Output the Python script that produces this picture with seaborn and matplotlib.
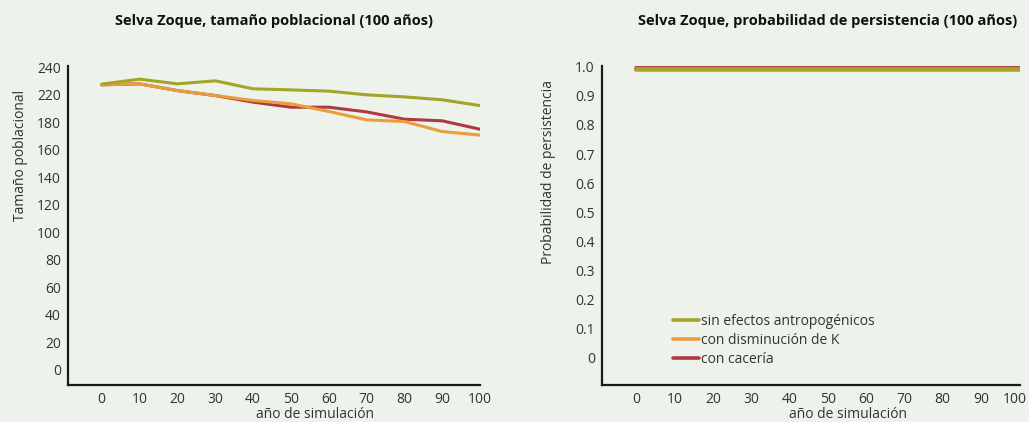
import matplotlib
matplotlib.use("Agg")
import matplotlib.pyplot as plt
import matplotlib.transforms as mtransforms
import seaborn as sns
import pandas as pd
from matplotlib.lines import Line2D

years = [0, 10, 20, 30, 40, 50, 60, 70, 80, 90, 100]
series_names = ["sin efectos antropogénicos", "con disminución de K", "con cacería"]
colors = {"sin efectos antropogénicos": "#a3a42a",
          "con disminución de K": "#eb9d3c",
          "con cacería": "#ad3a42"}

# population size (in axis units as drawn)
pop_sin = [207.8, 211.4, 208.0, 210.2, 204.4, 203.6, 202.7, 200.0, 198.5, 196.4, 192.2]
pop_k = [207.3, 208.0, 203.1, 199.5, 195.9, 193.5, 187.9, 181.8, 180.6, 173.3, 170.7]
pop_caza = [207.3, 208.0, 203.1, 199.5, 194.7, 191.0, 191.0, 187.6, 182.3, 181.1, 175.0]

# persistence probability
per_sin = [0.991, 0.991, 0.991, 0.991, 0.991, 0.991, 0.991, 0.991, 0.991, 0.991, 0.991]
per_k = [0.989, 0.989, 0.989, 0.989, 0.989, 0.989, 0.989, 0.989, 0.989, 0.989, 0.989]
per_caza = [0.997, 0.997, 0.997, 0.997, 0.997, 0.997, 0.997, 0.997, 0.997, 0.997, 0.997]

pop_ticks = [0, 20, 40, 60, 80, 100, 120, 140, 160, 180, 200, 220]
pop_labels = ["0", "20", "40", "60", "80", "100", "120", "140", "160", "180", "220", "240"]
per_ticks = [0, 0.1, 0.2, 0.3, 0.4, 0.5, 0.6, 0.7, 0.8, 0.9, 1.0]
per_labels = ["0", "0.1", "0.2", "0.3", "0.4", "0.5", "0.6", "0.7", "0.8", "0.9", "1.0"]

draw_order = ["con cacería", "con disminución de K", "sin efectos antropogénicos"]

def long_df(vals):
    rows = []
    for name, v in vals.items():
        for x, y in zip(years, v):
            rows.append({"year": x, "value": y, "serie": name})
    return pd.DataFrame(rows)

df_pop = long_df({"sin efectos antropogénicos": pop_sin,
                  "con disminución de K": pop_k,
                  "con cacería": pop_caza})
df_per = long_df({"sin efectos antropogénicos": per_sin,
                  "con disminución de K": per_k,
                  "con cacería": per_caza})

sns.set_theme(style="white")
plt.rcParams["font.family"] = ["Open Sans", "DejaVu Sans"]
bg = "#edf2eb"
txt = "#333333"

fig = plt.figure(figsize=(10.29, 4.22), dpi=100, facecolor=bg)
ax1 = fig.add_axes([0.0661, 0.0877, 0.4004, 0.756])
ax2 = fig.add_axes([0.5848, 0.0877, 0.4065, 0.756])

for ax, df, lw in [(ax1, df_pop, 2.2), (ax2, df_per, 2.8)]:
    ax.set_facecolor(bg)
    sns.lineplot(data=df, x="year", y="value", hue="serie", hue_order=draw_order,
                 palette=colors, linewidth=lw, ax=ax, legend=False, estimator=None)
    for s in ["top", "right"]:
        ax.spines[s].set_visible(False)
    for s in ["left", "bottom"]:
        ax.spines[s].set_color("#1a1a1a")
        ax.spines[s].set_linewidth(1.6)
    ax.set_xticks(years)
    ax.set_xticklabels([str(y) for y in years])
    ax.tick_params(axis="both", direction="out", length=3, width=1.2,
                   color="#1a1a1a", labelsize=10, labelcolor=txt, pad=2)

ax1.set_xlim(-8.9, 100)
ax1.set_ylim(-11, 221)
ax1.set_yticks(pop_ticks)
ax1.set_yticklabels(pop_labels)
ax1.set_xlabel("año de simulación", fontsize=10, color=txt, va="center")
ax1.xaxis.set_label_coords(0.6, -0.094)
ax1.set_ylabel("Tamaño poblacional", fontsize=10, color=txt, va="center")
ax1.yaxis.set_label_coords(-0.1165, 0.72)

ax2.set_xlim(-9, 100.2)
ax2.set_ylim(-0.094, 1.003)
ax2.set_yticks(per_ticks)
ax2.set_yticklabels(per_labels)
ax2.set_xlabel("año de simulación", fontsize=10, color=txt, va="center")
ax2.xaxis.set_label_coords(0.588, -0.094)
ax2.set_ylabel("Probabilidad de persistencia", fontsize=10, color=txt, va="center")
ax2.yaxis.set_label_coords(-0.128, 0.668)

# nudge last x label of right panel inward so it stays inside the figure
last = ax2.get_xticklabels()[-1]
last.set_transform(last.get_transform() + mtransforms.ScaledTranslation(-5 / 100, 0, fig.dpi_scale_trans))

handles = [Line2D([0], [0], color=colors[n], lw=2.6) for n in series_names]
ax2.legend(handles, series_names, loc="upper left", bbox_to_anchor=(0.17, 0.223),
           frameon=False, fontsize=10, handlelength=1.9, handletextpad=0.15,
           labelspacing=0.3, borderaxespad=0, borderpad=0, labelcolor=txt)

fig.text(274 / 1029, 1 - 21 / 422, "Selva Zoque, tamaño poblacional (100 años)",
         ha="center", va="center", fontsize=10.5, fontweight="bold", color="#111111")
fig.text(828 / 1029, 1 - 21 / 422, "Selva Zoque, probabilidad de persistencia (100 años)",
         ha="center", va="center", fontsize=10.5, fontweight="bold", color="#111111")

fig.savefig("out.png", dpi=100, facecolor=bg)
